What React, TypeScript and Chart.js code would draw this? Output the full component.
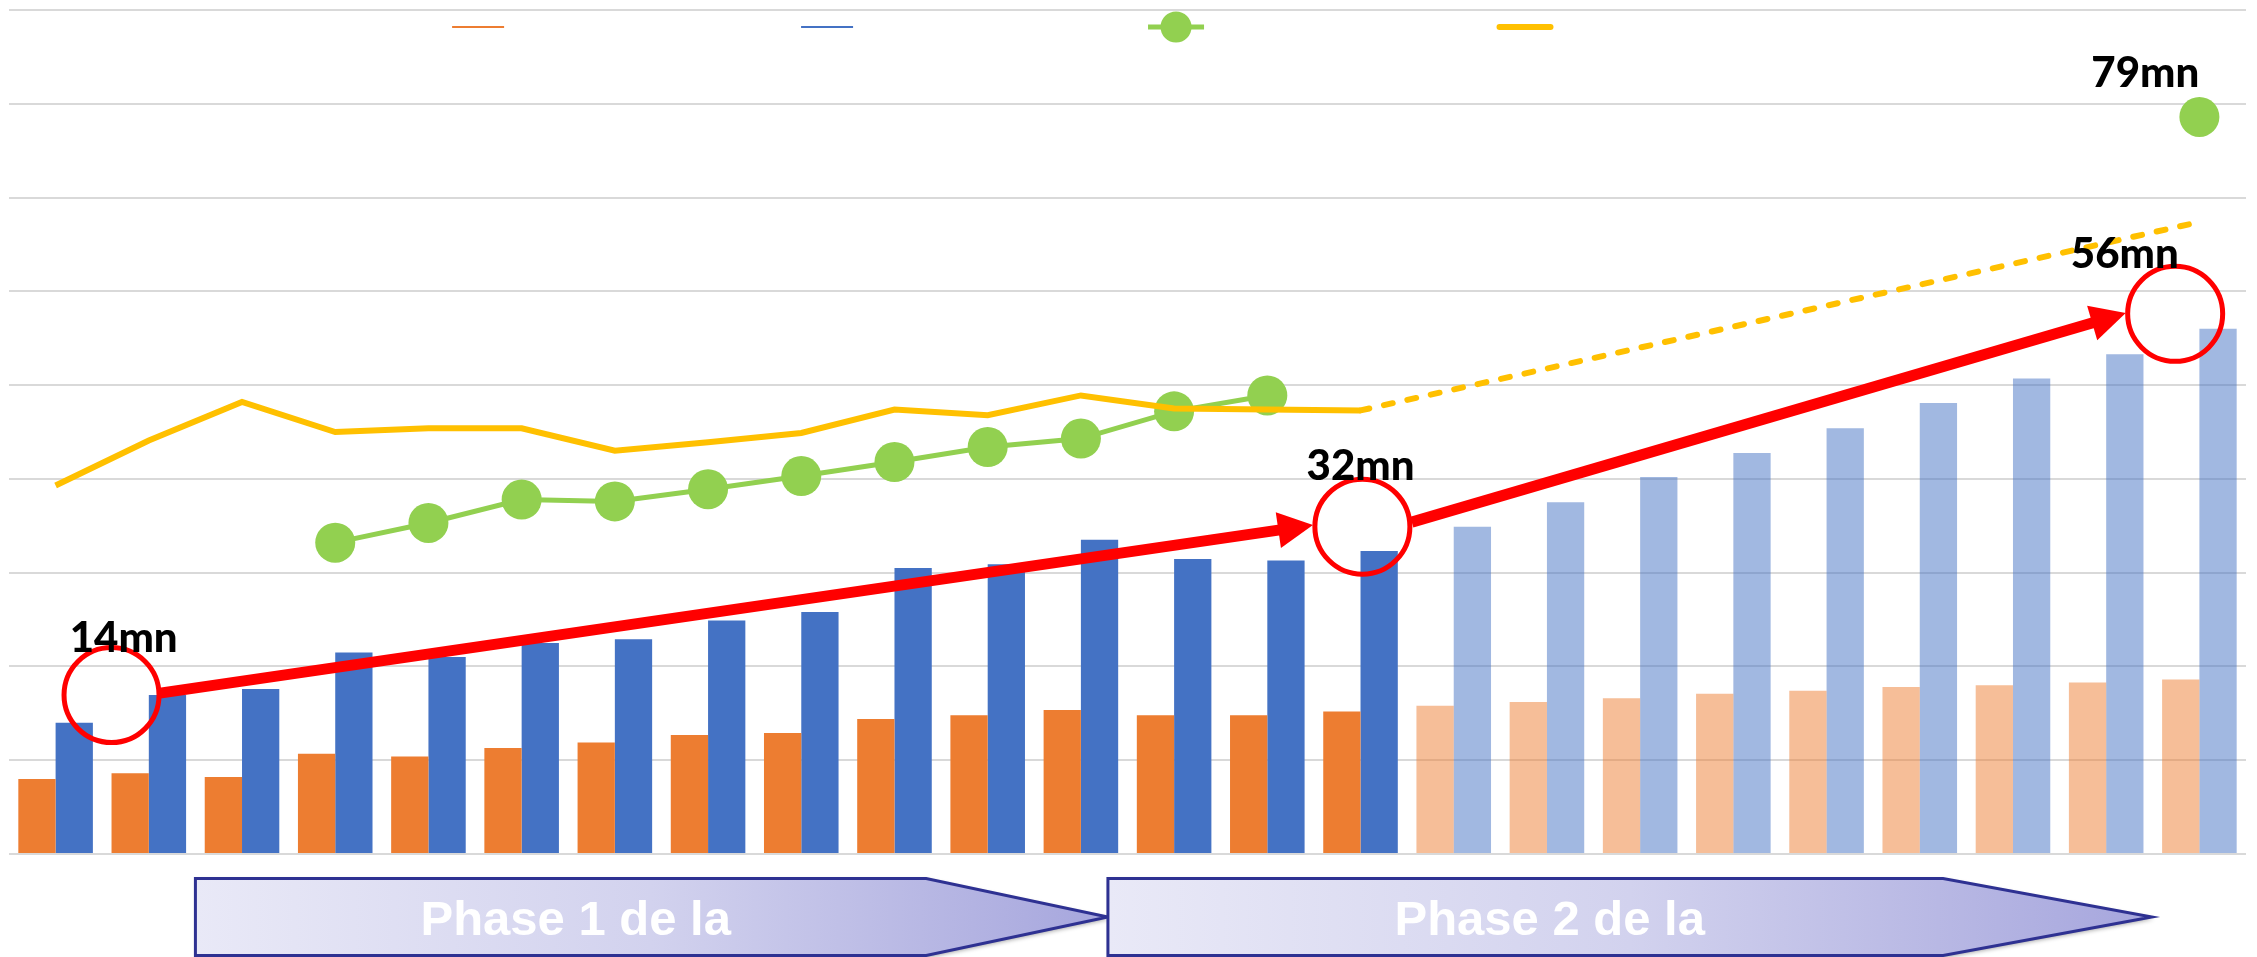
import React, { useEffect, useRef } from 'react';
import { Chart, registerables } from 'chart.js';

Chart.register(...registerables);

// ---------- data ----------
const categories = ['1', '2', '3', '4', '5', '6', '7', '8', '9', '10', '11', '12', '13', '14', '15', '16', '17', '18', '19', '20', '21', '22', '23', '24'];

const orangeValues = [8.0, 8.6, 8.2, 10.7, 10.4, 11.3, 11.9, 12.7, 12.9, 14.4, 14.8, 15.35, 14.8, 14.8, 15.2, 15.8, 16.2, 16.6, 17.1, 17.4, 17.8, 18.0, 18.3, 18.6];
const blueValues = [14.0, 16.95, 17.6, 21.5, 21.0, 22.5, 22.9, 24.9, 25.8, 30.5, 30.9, 33.5, 31.45, 31.3, 32.3, 34.9, 37.5, 40.2, 42.75, 45.4, 48.1, 50.7, 53.3, 56.0];
const greenValues = [null, null, null, 33.2, 35.3, 37.8, 37.6, 38.9, 40.3, 41.8, 43.4, 44.3, 47.2, 48.9, null, null, null, null, null, null, null, null, null, 78.6];
const yellowValues = [39.3, 44.1, 48.2, 45.0, 45.4, 45.4, 43.0, 43.9, 44.9, 47.4, 46.8, 48.9, 47.5, 47.4, 47.3, null, null, null, null, null, null, null, null, null];
const yellowForecast = [null, null, null, null, null, null, null, null, null, null, null, null, null, null, 47.3, null, null, null, null, null, null, null, null, 67.4];
const firstProjectedIndex = 15;

const yTicks = { min: 0, max: 90, step: 10 };

// annotations (x in category index units, y in value units)
const circleMarks = [
  { x: 0.6, y: 16.95 },
  { x: 14.02, y: 34.9 },
  { x: 22.74, y: 57.6 },
];
const arrowMarks = [
  { x0: 1.12, y0: 17.16, x1: 13.49, y1: 35.07 },
  { x0: 14.55, y0: 35.39, x1: 22.21, y1: 57.68 },
];
const valueLabels = [
  { text: '14mn', x: 0.73, y: 21.5 },
  { text: '32mn', x: 14.0, y: 39.9 },
  { text: '56mn', x: 22.2, y: 62.5 },
  { text: '79mn', x: 22.42, y: 81.8 },
];
const phases = [
  { text: 'Phase 1 de la', x0: 1.5, x1: 9.34, x2: 11.29, tx: 5.58 },
  { text: 'Phase 2 de la', x0: 11.29, x1: 20.25, x2: 22.49, tx: 16.03 },
];

// ---------- colours ----------
const ORANGE = '#ED7D31';
const ORANGE_LIGHT = 'rgba(237,125,49,0.5)';
const BLUE = '#4472C4';
const BLUE_LIGHT = 'rgba(68,114,196,0.5)';
const GREEN = '#92D050';
const YELLOW = '#FFC000';
const RED = '#FF0000';

// legend symbols (no text in the original legend)
const legendSymbols = [
  { color: ORANGE, lineW: 2, len: 52, marker: 0, cap: 'butt' },
  { color: BLUE, lineW: 2, len: 52, marker: 0, cap: 'butt' },
  { color: GREEN, lineW: 5, len: 56, marker: 15.5, cap: 'butt' },
  { color: YELLOW, lineW: 6, len: 51, marker: 0, cap: 'round' },
];

const annotationPlugin = {
  id: 'annotations',
  afterDatasetsDraw(chart: any) {
    const { ctx } = chart;
    const xs = chart.scales.x;
    const ys = chart.scales.y;
    ctx.save();
    // red arrows
    arrowMarks.forEach((a) => {
      const sx = xs.getPixelForValue(a.x0);
      const sy = ys.getPixelForValue(a.y0);
      const ex = xs.getPixelForValue(a.x1);
      const ey = ys.getPixelForValue(a.y1);
      const dx = ex - sx;
      const dy = ey - sy;
      const len = Math.hypot(dx, dy);
      const ux = dx / len;
      const uy = dy / len;
      const headLen = 35;
      const headHalf = 18;
      ctx.strokeStyle = RED;
      ctx.lineWidth = 11;
      ctx.lineCap = 'butt';
      ctx.beginPath();
      ctx.moveTo(sx, sy);
      ctx.lineTo(ex - ux * headLen * 0.8, ey - uy * headLen * 0.8);
      ctx.stroke();
      const bx = ex - ux * headLen;
      const by = ey - uy * headLen;
      ctx.fillStyle = RED;
      ctx.beginPath();
      ctx.moveTo(ex, ey);
      ctx.lineTo(bx - uy * headHalf, by + ux * headHalf);
      ctx.lineTo(bx + uy * headHalf, by - ux * headHalf);
      ctx.closePath();
      ctx.fill();
    });
    // red circles
    circleMarks.forEach((c) => {
      ctx.strokeStyle = RED;
      ctx.lineWidth = 5;
      ctx.beginPath();
      ctx.arc(xs.getPixelForValue(c.x), ys.getPixelForValue(c.y), 47.5, 0, Math.PI * 2);
      ctx.stroke();
    });
    // labels
    ctx.fillStyle = '#000000';
    ctx.font = '900 42px Lato, "Open Sans", sans-serif';
    ctx.textAlign = 'center';
    ctx.textBaseline = 'alphabetic';
    valueLabels.forEach((l) => {
      ctx.fillText(l.text, xs.getPixelForValue(l.x), ys.getPixelForValue(l.y));
    });
    ctx.restore();
  },
  afterDraw(chart: any) {
    const { ctx, chartArea } = chart;
    const xs = chart.scales.x;

    // legend (symbols only)
    ctx.save();
    const legendY = chartArea.top + 17;
    const legendStart = chartArea.left + chartArea.width * 0.2097;
    const legendStep = chartArea.width * 0.156;
    legendSymbols.forEach((s, i) => {
      const cx = legendStart + i * legendStep;
      ctx.strokeStyle = s.color;
      ctx.lineWidth = s.lineW;
      ctx.lineCap = s.cap as CanvasLineCap;
      ctx.beginPath();
      ctx.moveTo(cx - s.len / 2, legendY);
      ctx.lineTo(cx + s.len / 2, legendY);
      ctx.stroke();
      if (s.marker > 0) {
        ctx.fillStyle = s.color;
        ctx.beginPath();
        ctx.arc(cx, legendY, s.marker, 0, Math.PI * 2);
        ctx.fill();
      }
    });
    ctx.restore();

    // phase arrows
    const top = chartArea.bottom + 24.5;
    const bottom = chartArea.bottom + 101.5;
    const mid = (top + bottom) / 2;
    ctx.save();
    phases.forEach((p) => {
      const x0 = xs.getPixelForValue(p.x0);
      const x1 = xs.getPixelForValue(p.x1);
      const x2 = xs.getPixelForValue(p.x2);
      const grad = ctx.createLinearGradient(x0, 0, x2, 0);
      grad.addColorStop(0, '#E9E9F7');
      grad.addColorStop(0.5, '#D2D2EE');
      grad.addColorStop(1, '#A6A6DD');
      ctx.beginPath();
      ctx.moveTo(x0, top);
      ctx.lineTo(x1, top);
      ctx.lineTo(x2, mid);
      ctx.lineTo(x1, bottom);
      ctx.lineTo(x0, bottom);
      ctx.closePath();
      ctx.save();
      ctx.shadowColor = 'rgba(0,0,0,0.35)';
      ctx.shadowBlur = 4;
      ctx.shadowOffsetX = 2;
      ctx.shadowOffsetY = 2;
      ctx.fillStyle = grad;
      ctx.fill();
      ctx.restore();
      ctx.strokeStyle = '#2E3192';
      ctx.lineWidth = 3;
      ctx.lineJoin = 'miter';
      ctx.stroke();
      ctx.fillStyle = '#FFFFFF';
      ctx.font = 'bold 49px "Liberation Sans", Arial, sans-serif';
      ctx.textAlign = 'center';
      ctx.textBaseline = 'alphabetic';
      ctx.fillText(p.text, xs.getPixelForValue(p.tx), chartArea.bottom + 81);
    });
    ctx.restore();
  },
};

export default function App() {
  const ref = useRef<HTMLCanvasElement>(null);

  useEffect(() => {
    const canvas = ref.current;
    if (!canvas) return;

    const chart = new Chart(canvas, {
      type: 'bar',
      data: {
        labels: categories,
        datasets: [
          {
            type: 'bar',
            label: 'A',
            data: orangeValues,
            backgroundColor: orangeValues.map((_, i) => (i < firstProjectedIndex ? ORANGE : ORANGE_LIGHT)),
            borderWidth: 0,
            categoryPercentage: 0.8,
            barPercentage: 1.0,
            order: 2,
          },
          {
            type: 'bar',
            label: 'B',
            data: blueValues,
            backgroundColor: blueValues.map((_, i) => (i < firstProjectedIndex ? BLUE : BLUE_LIGHT)),
            borderWidth: 0,
            categoryPercentage: 0.8,
            barPercentage: 1.0,
            order: 2,
          },
          {
            type: 'line',
            label: 'C',
            data: greenValues,
            borderColor: GREEN,
            backgroundColor: GREEN,
            borderWidth: 5,
            pointRadius: 20,
            pointHoverRadius: 20,
            pointBackgroundColor: GREEN,
            pointBorderWidth: 0,
            spanGaps: false,
            order: 1,
          },
          {
            type: 'line',
            label: 'D',
            data: yellowValues,
            borderColor: YELLOW,
            backgroundColor: YELLOW,
            borderWidth: 6,
            pointRadius: 0,
            spanGaps: false,
            order: 0,
          },
          {
            type: 'line',
            label: 'D2',
            data: yellowForecast,
            borderColor: YELLOW,
            backgroundColor: YELLOW,
            borderWidth: 6,
            borderDash: [9, 15],
            borderCapStyle: 'round',
            pointRadius: 0,
            spanGaps: true,
            order: 0,
          },
        ] as any,
      },
      options: {
        animation: false,
        responsive: true,
        maintainAspectRatio: false,
        layout: { autoPadding: false, padding: { left: 9, right: 11, top: 10, bottom: 103 } },
        scales: {
          x: {
            grid: { display: false, drawTicks: false, tickLength: 0 },
            ticks: { display: false, padding: 0 },
            border: { display: false },
          },
          y: {
            min: yTicks.min,
            max: yTicks.max,
            ticks: { display: false, stepSize: yTicks.step, padding: 0 },
            grid: { color: '#D9D9D9', lineWidth: 2, drawTicks: false, tickLength: 0 },
            border: { display: false },
          },
        },
        plugins: {
          tooltip: { enabled: false },
          legend: { display: false },
        },
      } as any,
      plugins: [annotationPlugin],
    });

    return () => chart.destroy();
  }, []);

  return (
    <div style={{ position: 'absolute', left: 0, top: 0, width: 2257, height: 957 }}>
      <canvas ref={ref} />
    </div>
  );
}
